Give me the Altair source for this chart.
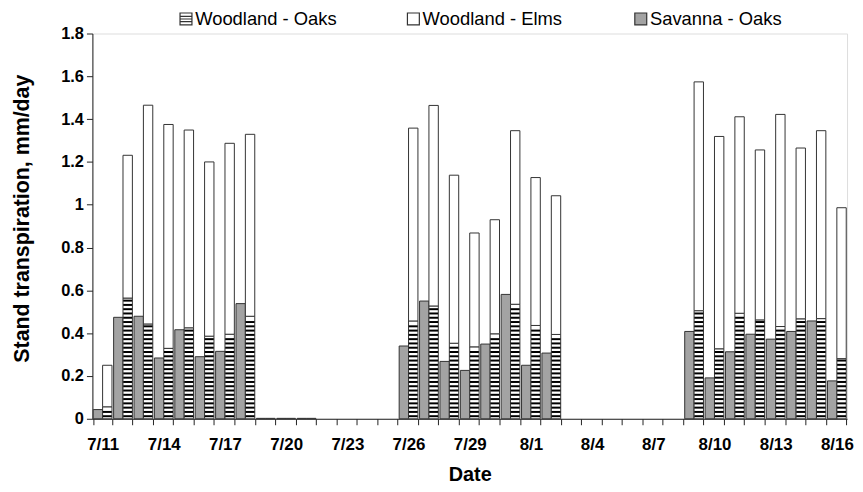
import altair as alt
import numpy as np
import pandas as pd

dates = ["7/11", "7/12", "7/13", "7/14", "7/15", "7/16", "7/17", "7/18", "7/19", "7/20",
         "7/21", "7/22", "7/23", "7/24", "7/25", "7/26", "7/27", "7/28", "7/29", "7/30",
         "7/31", "8/1", "8/2", "8/3", "8/4", "8/5", "8/6", "8/7", "8/8", "8/9",
         "8/10", "8/11", "8/12", "8/13", "8/14", "8/15", "8/16"]
labeled_dates = ["7/11", "7/14", "7/17", "7/20", "7/23", "7/26", "7/29", "8/1",
                 "8/4", "8/7", "8/10", "8/13", "8/16"]

savanna_oaks = [0.043, 0.474, 0.479, 0.284, 0.416, 0.290, 0.315, 0.538,
                0.002, 0.002, 0.002, 0, 0, 0, 0,
                0.340, 0.550, 0.268, 0.226, 0.349, 0.581, 0.250, 0.307,
                0, 0, 0, 0, 0, 0,
                0.408, 0.191, 0.313, 0.395, 0.372, 0.408, 0.457, 0.177]
woodland_oaks = [0.056, 0.564, 0.443, 0.329, 0.425, 0.386, 0.395, 0.479,
                 0.002, 0.002, 0.002, 0, 0, 0, 0,
                 0.457, 0.527, 0.353, 0.336, 0.397, 0.535, 0.436, 0.394,
                 0, 0, 0, 0, 0, 0,
                 0.505, 0.327, 0.493, 0.462, 0.431, 0.467, 0.468, 0.281]
woodland_elms = [0.194, 0.667, 1.022, 1.046, 0.924, 0.814, 0.892, 0.850,
                 0, 0, 0, 0, 0, 0, 0,
                 0.901, 0.937, 0.785, 0.532, 0.533, 0.811, 0.691, 0.648,
                 0, 0, 0, 0, 0, 0,
                 1.069, 0.992, 0.918, 0.794, 0.991, 0.798, 0.878, 0.705]

series_names = ["Woodland - Oaks", "Woodland - Elms", "Savanna - Oaks"]
series_fill = ["white", "white", "#a3a3a3"]
series_stroke = ["#333333", "#333333", "#333333"]
stripe_path = "M-1,-1H1V1H-1Z M-1,-0.45H1 M-1,0H1 M-1,0.45H1"
series_shape = [stripe_path, "square", "square"]
y_ticks = [0, 0.2, 0.4, 0.6, 0.8, 1.0, 1.2, 1.4, 1.6, 1.8]

rows = []
stripe_rows = []
for d, so, wo, we in zip(dates, savanna_oaks, woodland_oaks, woodland_elms):
    if so > 0:
        rows.append({"date": d, "pos": "a", "series": "Savanna - Oaks", "lo": 0.0, "hi": so})
    if wo > 0:
        rows.append({"date": d, "pos": "b", "series": "Woodland - Oaks", "lo": 0.0, "hi": wo})
    if we > 0:
        rows.append({"date": d, "pos": "b", "series": "Woodland - Elms", "lo": wo, "hi": wo + we})
    # horizontal hatch texture for the Woodland - Oaks bar
    for lv in np.arange(0.012, wo - 0.008, 0.02):
        stripe_rows.append({"date": d, "pos": "b", "level": float(lv)})
df = pd.DataFrame(rows)
stripes_df = pd.DataFrame(stripe_rows)
legend_df = pd.DataFrame({"series": series_names, "date": [dates[0]] * 3, "hi": [0.0] * 3})

FONT = "Liberation Sans"
label_list = "[" + ",".join("'" + s + "'" for s in labeled_dates) + "]"

x_enc = alt.X(
    "date:N", sort=dates,
    scale=alt.Scale(domain=dates, paddingInner=0.08, paddingOuter=0.04),
    axis=alt.Axis(
        title="Date", labelAngle=0, tickBand="extent", labelOverlap=False,
        labelExpr=f"indexof({label_list}, datum.label) >= 0 ? datum.label : ''",
        labelFont=FONT, labelFontSize=17, labelFontWeight="bold", labelColor="black",
        labelPadding=12, tickSize=6, tickColor="#222", domainColor="#222",
        titleFont=FONT, titleFontSize=20, titleFontWeight="bold", titleColor="black",
        titleBaseline="alphabetic", titleY=62,
    ),
)
xoff = alt.XOffset("pos:N", sort=["a", "b"], scale=alt.Scale(domain=["a", "b"], paddingInner=0, paddingOuter=0))
y_scale = alt.Scale(domain=[0, 1.8], nice=False)


def make_legend():
    return alt.Legend(
        title=None, orient="none", legendX=85, legendY=-24,
        direction="horizontal", columns=3, gridAlign="all", columnPadding=67,
        labelFont=FONT, labelFontSize=18.5, labelColor="black", labelOffset=0,
        symbolSize=144, symbolStrokeWidth=1.2,
        symbolOpacity=1, labelLimit=300,
    )


fill_scale = alt.Scale(domain=series_names, range=series_fill)
stroke_scale = alt.Scale(domain=series_names, range=series_stroke)

bars = alt.Chart(df).mark_bar(strokeWidth=1).encode(
    x=x_enc,
    xOffset=xoff,
    y=alt.Y("hi:Q", scale=y_scale, axis=alt.Axis(
        title="Stand transpiration, mm/day", values=y_ticks, format="~g", grid=False,
        labelFont=FONT, labelFontSize=16.5, labelFontWeight="bold", labelColor="black",
        labelPadding=3, tickSize=6, tickColor="#222", domainColor="#222",
        titleFont=FONT, titleFontSize=21.5, titleFontWeight="bold", titleColor="black",
        titleAngle=-90, titleX=-70, titleY=186, titleAlign="center", titleBaseline="middle",
    )),
    y2="lo:Q",
    fill=alt.Fill("series:N", scale=fill_scale, legend=make_legend()),
    stroke=alt.Stroke("series:N", scale=stroke_scale, legend=make_legend()),
)

stripes = alt.Chart(stripes_df).mark_tick(
    orient="horizontal", color="black", thickness=2, size=9, opacity=1
).encode(
    x=x_enc,
    xOffset=xoff,
    y=alt.Y("level:Q", scale=y_scale),
)

legend_layer = alt.Chart(legend_df).mark_point(
    filled=True, strokeWidth=1.2, opacity=1, size=0
).encode(
    x=x_enc,
    y=alt.Y("hi:Q", scale=y_scale),
    fill=alt.Fill("series:N", scale=fill_scale, legend=make_legend()),
    stroke=alt.Stroke("series:N", scale=stroke_scale, legend=make_legend()),
    shape=alt.Shape("series:N", scale=alt.Scale(domain=series_names, range=series_shape),
                    legend=make_legend()),
)

chart = alt.layer(bars, stripes, legend_layer).properties(
    width=760, height=388,
    padding={"left": 85, "top": 24, "right": 8, "bottom": 64},
    autosize=alt.AutoSizeParams(type="none"),
).configure_view(stroke="#555", strokeWidth=1).configure(background="white")

chart.save("out.html", embed_options={"renderer": "svg", "actions": False})
